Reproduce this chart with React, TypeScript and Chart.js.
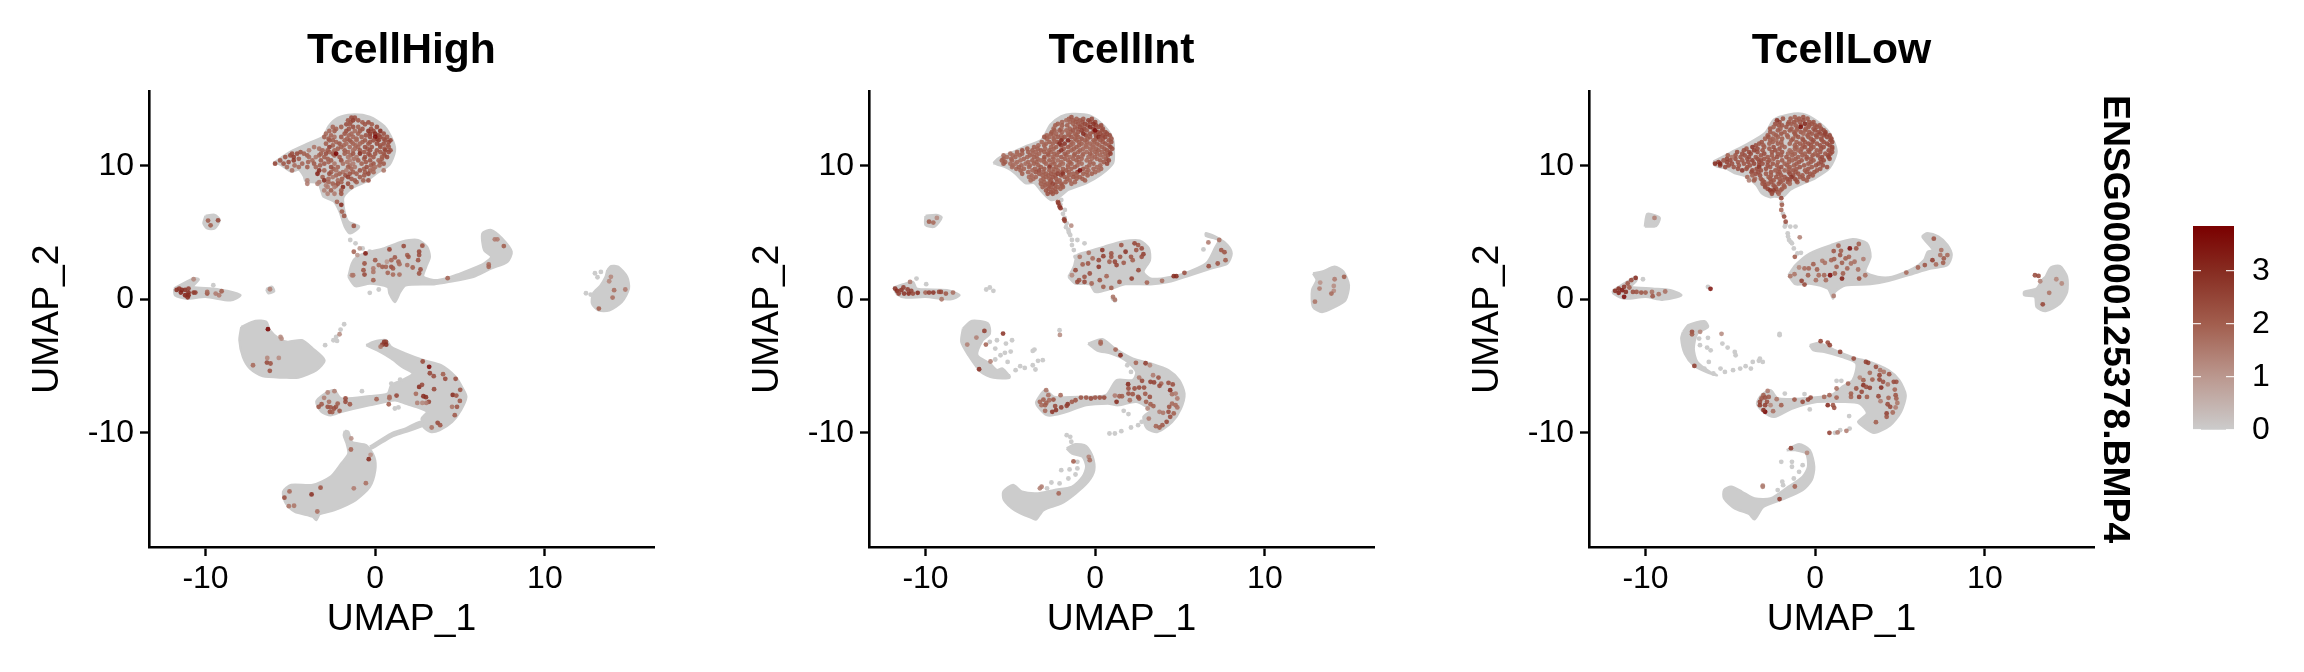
import React, { useEffect, useRef } from "react";
import { Chart, registerables } from "chart.js";

Chart.register(...registerables);

// UMAP cells are read off the picture. Solid grey masses, where single cells cannot be told apart,
// are kept as hull outlines in UMAP units; separate cells at their edges and all expressing cells are points.
const panelTitles = ["TcellHigh", "TcellInt", "TcellLow"];
const stripLabel = "ENSG00000125378.BMP4";
const xTickValues = [-10, 0, 10];
const yTickValues = [-10, 0, 10];
const legendTicks = [0, 1, 2, 3];
const legendRange = [0, 3.85];
const scaleValues = [0, 1, 2, 3, 3.85];
const scaleColors = [[204, 204, 204], [187, 152, 143], [162, 94, 78], [135, 44, 33], [122, 0, 0]];

// hulls: x,y pairs
const highHulls = [
  [-6,10.2,-4.95,11.08,-3.9,11.7,-3.05,12.2,-2.74,12.96,-2.2,13.58,-1.37,13.83,-.32,13.66,.53,12.96,1.05,11.83,1.16,11.08,.84,10.08,.1,9.45,-.53,8.82,-1.37,8.32,-1.79,7.82,-1.9,7.44,-1.79,6.44,-1.58,5.81,-.95,5.44,-1.47,4.94,-1.79,5.44,-2.1,6.57,-2.42,7.32,-3.05,7.7,-3.16,8.07,-3.37,8.7,-4.1,8.82,-4.2,9.2,-4.5,9.7,-4.95,9.57,-5.58,10.08],
  [-10,6.24,-9.47,6.32,-9.16,5.94,-9.47,5.3,-9.89,5.3,-10.12,5.68],
  [-11.85,.8,-10.74,1.55,-10.4,1.48,-10.74,.93,-9.58,.8,-8.74,.63,-7.94,.3,-8.53,-.08,-10,.18,-11.16,.05,-11.79,.3],
  [-6.42,.75,-6.1,.95,-5.95,.6,-6.3,.45],
  [-1.58,1.68,-1.37,2.68,-1.05,3.2,-.32,3.56,.53,3.81,1.58,4.31,2.53,4.43,3.05,3.93,3.22,3.18,3,2.43,2.84,1.68,3.68,1.43,4.74,1.8,6,2.43,6.42,2.68,6.84,3.18,6.42,3.68,6.32,4.93,6.84,5.18,7.47,4.56,8.04,3.56,7.79,2.81,6.84,2.31,5.79,1.68,4.32,1.3,3.47,1.13,1.79,1.05,1.47,.55,1.16,-.2,.84,.43,.74,.93,-.32,1.18,-1.16,.98],
  [13.68,2.18,13.9,2.48,14.32,2.43,14.84,1.68,14.95,.8,14.53,-.2,13.79,-.83,13.16,-.83,12.78,-.33,12.84,.43,13.26,1,13.58,1.68],
  [-7.89,-2.07,-7.05,-1.62,-6.42,-1.69,-6.21,-2.32,-5.68,-2.94,-5.16,-3.19,-4.32,-3.07,-3.68,-3.69,-2.99,-4.56,-3.47,-5.31,-4.53,-5.86,-5.37,-5.86,-6.63,-5.76,-7.37,-5.19,-7.79,-4.32,-8,-3.07],
  [-.53,-3.44,-.11,-3.19,.63,-3.07,.95,-3.57,1.79,-4.07,2.84,-4.56,3.89,-4.94,4.74,-5.81,5.16,-6.68,5.37,-7.31,5.05,-8.3,4.53,-9.18,3.79,-9.8,3.26,-9.93,2.84,-9.55,2.74,-8.93,3.05,-8.43,2.42,-8.06,1.79,-7.81,1.16,-7.56,-.32,-7.93,-2,-8.43,-2.63,-8.68,-3.16,-8.43,-3.47,-7.68,-2.95,-7.06,-2.42,-6.81,-2,-7.43,-.32,-7.26,.74,-7.06,.95,-6.43,1.58,-6.06,2.21,-5.56,1.58,-5.06,.95,-4.44,.11,-3.82],
  [-.32,-11.05,.95,-10.05,1.79,-9.68,2.63,-9.18,2.84,-9.43,1.79,-9.93,.95,-10.3,-.21,-11.17],
  [-1.79,-9.85,-1.58,-9.93,-1.37,-10.68,-.53,-10.93,-.06,-11.8,0,-12.8,-.32,-14.04,-1.16,-15.04,-2.42,-15.79,-3.26,-16.08,-3.47,-16.53,-3.68,-16.28,-4.74,-15.91,-5.26,-15.29,-5.43,-14.41,-4.95,-13.91,-3.68,-13.91,-2.63,-13.29,-2,-12.3,-1.58,-11.55,-1.68,-10.8,-1.85,-10.18],
];
const intHulls = [
  [-6,10.2,-5.68,10.58,-4.74,11.08,-4.1,11.45,-3.16,11.95,-2.63,13.08,-2,13.7,-1.37,13.88,-.32,13.76,.53,12.96,1.05,11.95,1.1,11,1.05,10.2,.32,9.32,-.53,8.7,-1.58,8.2,-2.21,7.57,-2.63,7.45,-3.16,8.07,-3.58,8.7,-4.1,8.7,-4.74,9.45,-5.16,9.82,-5.79,10.1],
  [-10,6.24,-9.37,6.32,-9.05,6.14,-9.47,5.44,-10,5.56],
  [-11.89,.88,-11.26,1.13,-10.74,1.3,-10.53,.8,-10,.73,-8.74,.68,-8,.3,-8.53,0,-10,.18,-11.16,.13,-11.68,.38],
  [-1.58,1.68,-1.26,2.43,-1.05,3.31,-.42,3.56,.53,3.93,1.58,4.31,2.63,4.39,3.16,3.81,3.22,2.93,2.84,2.06,3.26,1.55,3.89,1.55,4.95,1.8,6,2.31,6.63,2.81,7.05,3.81,7.26,4.44,6.53,4.74,6.53,4.94,7.26,4.56,7.79,4.06,8.04,3.43,7.79,2.68,6.84,2.31,5.58,1.8,4.32,1.3,3.26,1.13,1.79,1.13,.95,.8,0,.55,-.32,1.13,-1.16,1.18],
  [12.84,1.93,13.37,2.06,14.11,2.43,14.63,2.06,14.95,1.05,14.74,-.08,14.11,-.58,13.37,-.95,12.84,-.58,12.78,.68,13.05,1.43],
  [-7.79,-2.19,-7.26,-1.62,-6.32,-1.82,-6.21,-2.57,-6.63,-3.07,-6.95,-4.19,-6.21,-4.81,-5.79,-5.31,-5.47,-5.19,-5.05,-5.86,-6,-5.86,-6.74,-5.44,-7.47,-4.19,-7.89,-3.19],
  [-.42,-3.32,.42,-2.99,1.16,-3.69,2.21,-4.44,3.26,-4.81,4.32,-5.31,4.95,-6.06,5.26,-7.06,5.05,-8.18,4.53,-9.18,3.68,-9.93,3.05,-9.68,2.84,-8.81,3.26,-8.31,2.42,-7.68,1.37,-7.93,.74,-7.81,-.53,-7.93,-2,-8.55,-2.84,-8.68,-3.37,-8.05,-3.47,-7.68,-2.95,-6.81,-2.42,-7.31,-.74,-7.31,.63,-7.18,1.26,-6.06,2.21,-6.06,2.42,-5.44,1.79,-4.57,.95,-4.07,.11,-3.82],
  [-1.68,-11.17,-1.16,-10.85,-.53,-11,-.15,-11.8,-.06,-12.8,-.42,-13.67,-1.16,-14.54,-2,-15.29,-3.05,-15.79,-3.47,-16.48,-3.68,-16.41,-4.74,-15.79,-5.37,-15.04,-5.41,-14.41,-4.84,-13.91,-4.32,-14.41,-3.37,-14.54,-2.42,-14.29,-1.37,-14.04,-.74,-13.29,-.53,-12.54,-.74,-11.8,-1.37,-11.55],
];
const lowHulls = [
  [-6,10.31,-4.95,11,-3.9,11.7,-2.95,12.46,-2.42,13.46,-1.58,13.83,-.74,13.88,.11,13.33,.84,12.46,1.26,11.08,.84,9.82,0,9.07,-.74,8.65,-1.47,8.2,-1.89,7.69,-2.42,7.69,-2.63,7.64,-3.16,7.95,-3.47,8.57,-4.1,9.2,-4.74,9.45,-5.16,9.75,-5.89,10],
  [-10.04,5.44,-9.89,6.39,-9.37,6.24,-9.16,6.07,-9.37,5.49],
  [-11.94,.63,-11.26,1.18,-10.58,1.68,-10.53,1.43,-10.84,.93,-9.58,.8,-8.53,.68,-7.89,.3,-8.95,-.03,-10,.18,-11.26,.05,-11.89,.43],
  [-1.58,1.8,-1.16,2.56,-.32,3.43,.95,4.06,2.21,4.49,3.05,4.19,3.26,3.18,2.95,2.06,3.68,1.68,4.53,1.68,5.79,2.31,6.42,2.93,6.63,3.56,6.95,3.68,6.32,4.69,6.63,4.94,7.26,4.69,7.79,4.06,8.04,3.31,7.79,2.56,6.84,2.31,5.79,1.93,4.32,1.38,3.26,1.13,1.79,1.05,1.16,.55,1.05,.05,.74,.8,-.32,1.18,-1.16,1.13],
  [13.58,1.68,13.89,2.38,14.42,2.48,14.84,1.68,14.84,.55,14.42,-.33,13.58,-.88,13.05,-.58,12.95,.18,12.32,.3,12.32,.55,13.05,.8,13.37,1.43],
  [-7.79,-2.44,-7.47,-1.94,-6.53,-1.64,-6.32,-2.07,-6.95,-2.57,-7.16,-3.69,-6.95,-4.69,-6.21,-5.44,-5.79,-5.69,-6.42,-5.44,-7.16,-4.94,-7.68,-4.07,-7.89,-2.94],
  [-.32,-3.44,.21,-3.27,1.37,-3.94,2.42,-4.44,3.05,-4.61,4.32,-5.31,4.95,-6.06,5.33,-7.18,5.05,-8.43,4.42,-9.43,3.47,-10,2.84,-9.55,2.53,-9.18,3.05,-8.55,2.63,-7.81,1.58,-7.68,.11,-7.68,-1.37,-8.18,-2.42,-8.8,-3.05,-8.43,-3.43,-7.81,-3.16,-7.18,-2.63,-6.81,-2.21,-7.43,-.74,-7.43,.95,-7.18,1.58,-6.56,2.21,-6.06,2.42,-4.81,1.58,-4.32,.53,-3.94,-.11,-3.82],
  [-1.68,-11.3,-.95,-10.85,-.32,-11.3,-.06,-12.54,-.21,-13.54,-.74,-14.29,-1.79,-14.91,-3.05,-15.54,-3.58,-16.48,-3.89,-16.08,-4.74,-15.66,-5.37,-14.91,-5.37,-14.29,-4.95,-14.04,-4.32,-14.41,-3.58,-14.91,-2.63,-14.91,-1.58,-14.04,-.74,-13.29,-.42,-12.54,-.53,-11.55,-1.16,-11.3],
];

// separate grey cells: x,y pairs
const highGrey = [-1.47,4.44,-1.16,4.19,-.74,3.81,-.32,3.56,-.32,.48,.21,.73,-9.54,1.05,-4,8.95,-1.83,-1.87,-2.04,-2.27,-2.3,-2.82,-2.46,-3.07,-2.25,-3.12,-2.95,-3.44,-.78,-6.88,.95,-6.31,1.47,-6.01,1.16,-8.18,1.37,-8.1,12.95,1.95,13.3,2.05,12.42,.45,12.7,.35,13.1,1.65];
const intGrey = [-2.05,7.1,-1.9,6.4,-1.8,6.1,-1.72,5.4,-1.55,5,-1.58,5.19,-1.47,4.81,-1.37,4.44,-1.37,4.06,-1.26,3.68,-1.16,3.18,-2,7.44,-1.79,6.69,-1.68,5.69,-1.05,4.44,-.63,4.19,6.38,3.73,1.05,.05,1.16,-.08,-10.53,1.55,-9.96,1.13,-6.42,.73,-6.21,.88,-6,.63,-6.21,-3.19,-5.79,-3.07,-5.26,-3.32,-4.9,-3.07,-5.89,-4.51,-5.32,-4.01,-4.98,-3.92,-5.58,-4.19,-5.16,-4.69,-4.69,-5.31,-4.42,-5.01,-4.15,-5.14,-3.58,-3.77,-3.68,-3.87,-3.37,-4.61,-3.09,-4.56,-3.68,-4.94,-3.52,-5.26,-2.1,-2.32,-5.89,-3.69,-5.12,-5.76,.84,-10.05,1.16,-10.05,1.54,-9.88,2.11,-9.6,2.53,-9.43,2.74,-9.18,3.05,-8.81,1.68,-8.35,1.96,-8.6,1.89,-4.94,2.11,-5.44,-1.68,-10.18,-1.47,-10.3,-1.41,-10.67,-2,-12.8,-1.51,-12.74,-1.05,-12.67,-1.16,-13.12,-1.58,-13.42,-2.1,-13.79,-2.58,-13.72,-2.84,-14.16,-2.46,-14.54,-1.05,-12.17];
const lowGrey = [-1.98,7.2,-1.9,6.4,-1.75,5.6,-1.6,4.7,-1.45,4.3,-1.79,5.44,-1.47,5.44,-1.16,5.44,-1.62,4.94,-1.54,4.44,-1.37,4.19,-1.26,3.81,-1.05,3.43,-.84,3.48,-10.15,1.5,-6.32,.93,-6.84,-2.94,-6.32,-2.89,-6.79,-3.44,-6.37,-3.62,-6.16,-3.82,-5.47,-3.32,-5.16,-3.62,-4.74,-3.94,-4.69,-4.19,-6.27,-4.69,-6.53,-5.19,-6,-5.56,-5.58,-5.19,-5.32,-5.44,-4.84,-5.31,-4.42,-5.19,-4.1,-5.01,-3.79,-5.19,-3.68,-4.69,-3.26,-4.44,-3.09,-4.69,-3.32,-4.61,-2.1,-2.69,-2.1,-2.6,1.16,-10,1.47,-9.8,2.03,-9.68,1.26,-6.11,1.54,-6.11,2,-8.75,-.32,-8.25,-.63,-7.1,-1.79,-7.06,-1.94,-13.66,-1.37,-12.54,-1.37,-12.17,-2,-12.17,-.74,-12.42,-.95,-12.92,-1.26,-13.42,-2.21,-14.29,-1.89,-13.92];

// expressing cells, row per y: y, x, value, x, value ...
const highDense = [
  [13.25,-1.45,2.2,-.75,2.1,-.4,2.3],[12.75,-2.3,1.9,-1.55,2.2,-.75,2.2,-.25,2.3],[12.27,-2.6,1.9,-1.55,1.9,-.55,2.3,.2,2.6],[12.02,-2.75,2,-1.65,1.9,-1.1,1.9,.1,2.5,.5,2.3],
  [11.77,-2.3,1.9,-1.4,1.8,-.75,2,-.3,2.2,.8,2.3],[11.52,-2.5,2,-1.85,1.9,-1.15,1.9,.3,2.2,.75,2.2],[11.27,-3.3,1.7,-2.2,2,-1.2,1.8,-.45,2.1,.55,2.2],[11.02,-4.4,2.2,-2.7,1.9,-1.6,1.9,-.65,2.1,.3,2.1,.8,2.3],
  [10.77,-5,2.4,-4,2,-3.3,1.9,-2.4,2,-1.45,1.8,-.3,2.1,.55,2.1],[10.52,-4.5,2.1,-2.8,2,-1.25,1.7,-.65,2,.4,2],[10.27,-5.1,2.3,-3.95,1.9,-2.75,1.9,-1.65,1.6,-.55,2.1,.3,2.1],[10.02,-4.75,1.8,-3.25,2,-1.5,1.7,-.25,2,.25,1.9],
  [9.77,-2.45,2,-1.4,1.9,-.65,2,-.1,1.9],[9.52,-2.6,2,-1.9,1.7,-1.3,2,-.6,2.1,-.1,1.8],[9.27,-2.3,1.9,-1.75,2.3,-.65,2.1],[9.02,-2.75,1.8,-1.95,2,-1.4,2.1],[8.77,-3.3,1.5,-2.75,1.9,-2,2,-1.1,2],[8.52,-2.9,1.4,-2.3,1.9],
];
const intDense = [
  [13.5,-1.55,2,-1.1,2,-.7,2.1,-.2,2.3],[13.27,-1.95,1.9,-1.5,1.9,-1.15,2.1,-.75,2.3,-.3,2.4,0,2.5],[13.02,-2.35,2,-1.95,2,-1.65,2,-.8,2.2,-.45,2.4,.05,2.6,.35,2.4],[12.77,-2.45,1.9,-2,1.8,-1.5,2,-1.05,2.1,-.65,2.5,-.1,2.7,.45,2.3],
  [12.52,-2.55,2,-1.95,1.9,-1.45,2,-1,2.1,-.1,2.4,.15,2.4,.6,2.4],[12.27,-2.85,1.9,-2.45,1.8,-2,1.9,-1.55,2,-1.1,2.1,-.55,2.4,.05,2.4,.45,2.5,.85,2.4],[12.02,-2.85,2,-2.45,2,-1.95,2,-1.2,2,-.8,2.2,-.45,2,.05,2.2,.45,2.3,.95,2.2],
  [11.77,-3.15,1.9,-2.7,2,-2.25,2.2,-1.4,1.9,-.95,2,-.5,1.9,-.05,1.9,.45,2.1,.95,2.3],[11.52,-3.35,1.9,-3,2,-2,2.6,-1.45,2,-.95,2,-.55,1.9,-.15,1.8,.25,1.9,.8,2.2],[11.27,-4,2,-3.4,2,-2.95,1.9,-2.45,2,-1.85,2.1,-1.25,2,-.7,1.9,-.3,1.8,.05,1.9,.55,2.1,1,2.3],
  [11.02,-4.6,1.9,-3.95,2,-3.5,1.9,-3,2,-2.6,1.9,-2.15,2.2,-1.6,2,-1,1.9,-.5,1.8,0,1.9,.4,1.9,.85,2.2],[10.77,-5.4,1.8,-4.85,1.8,-4.45,1.9,-3.85,2,-3.45,1.9,-2.75,2,-2.25,2,-1.7,2,-1.25,2,-.75,1.9,-.2,1.8,.3,1.9,.75,2.1],
  [10.52,-5.4,2,-4.95,1.9,-4.2,1.9,-3.4,2,-3,1.9,-2.45,1.9,-1.8,2,-1.3,1.9,-.8,1.9,-.2,1.8,.1,1.8,.65,2.2],[10.27,-5.3,2,-4.6,1.8,-3.95,1.9,-3.45,2,-3,2,-2.5,1.9,-2,1.9,-1.5,2,-.95,1.9,-.3,1.9,.5,2.1],
  [10.02,-4.85,1.8,-4.35,1.9,-3.85,1.9,-3.35,2,-2.65,2.1,-2.1,2,-1.6,1.9,-1.05,1.9,-.35,1.9,.3,1.9],[9.77,-4.65,1.9,-4.2,1.9,-3.55,2,-3,2.1,-2.45,2,-1.9,2,-1.4,2,-.7,2.1,-.1,1.9,.35,1.9],
  [9.52,-3.95,1.9,-3.5,2.2,-3.05,2,-2.45,2,-1.95,2.2,-1.55,2,-1.05,2.4,-.5,1.9,0,1.9],[9.27,-3.75,1.9,-3.1,2,-2.75,2,-2.35,2.2,-2,2.4,-1.55,2,-1.1,2,-.45,2],[9.02,-3.65,1.8,-3.05,2,-2.7,2,-2.3,2.1,-1.65,2,-1.1,2,-.75,2],
  [8.77,-3,2,-2.65,2.1,-2.25,2.1,-1.75,2,-1.2,1.9],[8.52,-2.95,2.1,-2.7,2.2,-2.35,2.1,-1.95,2],[8.27,-2.75,2.2,-2.35,2.1,-2.05,2],[8.02,-2.6,2.3,-2.3,2.2],
];
const lowDense = [
  [13.52,-1.9,2.2,-1.45,2.1,-.95,2.2,-.45,2.1],[13.27,-2.1,2.4,-1.55,2.1,-1.25,2.2,-.9,2.1,-.35,2.2,-.1,2.2],[13.02,-2.15,2.2,-1.95,2.2,-1.15,2.1,-.85,2.2,-.35,2.3,0,2.2,.25,2.2],[12.77,-2.65,2.1,-2.05,2,-1.4,2.1,-1.05,2.2,-.55,2.1,-.1,2.2,.35,2.3],
  [12.52,-2.65,2.1,-1.8,2,-1.25,2,-.85,2.1,-.35,2.1,.2,2.3,.6,2.5],[12.27,-2.8,2.1,-2.3,2.1,-1.65,2,-1.15,2,-.45,2.2,.05,2.3,.5,2.4,.85,2.5],[12.02,-2.95,2,-2.5,2,-1.95,2,-1.3,2,-.75,2.1,-.25,2.2,.35,2.3,.95,2.5],[11.77,-3.15,2.2,-2.5,2,-2,2,-1.1,2,-.6,2.1,-.15,2.2,.5,2.3,1,2.5],
  [11.52,-3.5,2.3,-3.05,2.1,-1.95,2,-1.2,2,-.7,2.1,-.25,2.2,.3,2.3,.85,2.4],[11.27,-4.05,2.2,-3.4,2.4,-2.7,2.1,-2.1,2.2,-1.2,2,-.8,2.1,-.25,2.2,.35,2.3,1,2.4],[11.02,-4.6,2.3,-3.9,2.4,-3.4,2.3,-2.55,2.2,-1.95,2.2,-1.4,2,-.85,2.1,-.35,2.2,.3,2.2,1,2.3],
  [10.77,-5.15,2,-4.7,2.2,-4.15,2.3,-3.2,2.2,-2.55,2.1,-2,2.1,-1.35,2,-.75,2.1,-.15,2.2,.15,2.3,.75,2.4],[10.52,-5.2,2.4,-4.7,2.3,-4,2.3,-3.4,2.4,-3,2.2,-2.45,2.1,-1.55,2,-1.15,2.1,-.5,2.1,-.25,2.1,.3,2.3,.85,2.4],[10.27,-5.7,2.6,-5.2,2.5,-4.55,2.2,-3.95,2.3,-3.3,2.4,-2.8,2.2,-2.2,2,-1.55,2,-.95,2.1,-.25,2.1,.35,2.3],
  [10.02,-5.6,2.6,-5.1,2.4,-4.5,2.2,-3.85,2.2,-3.3,2.5,-2.8,2.3,-2.25,2.1,-1.65,2.1,-1.25,2,-.65,2.1,.05,2.2,.45,2.3],[9.77,-4.55,2.3,-4.05,2.3,-3.45,2.4,-2.9,2.3,-2.15,2.2,-1.55,2,-1.1,2.1,-.4,2.2,.3,2.2],[9.52,-3.75,2.4,-3.35,2.3,-2.6,2.2,-2.1,2.2,-1.55,2.1,-1.15,2.2,-.5,2.2,-.05,2.2],
  [9.27,-3.7,2,-3.25,2.3,-2.6,2.1,-2,2.2,-1.3,2.3,-.75,2.2,-.15,2.2],[9.02,-3.55,1.8,-3.2,2.1,-2.65,2.2,-2.1,2.1,-1.65,2.4,-1.2,2.4,-.7,2.2],[8.77,-3,2.3,-2.6,2.2,-2.05,2.2,-1.6,2.2,-1.05,2.1],[8.52,-2.95,2.4,-2.45,2.3,-1.85,2.1],[8.27,-2.8,2.5,-2.3,2.3,-1.95,2.1],[8.02,-2.55,2.3,-2.2,2.3],
];
const highCells = [
  [13.6,-1.4,2.4,-1.2,2.3],[13.4,-1.6,2.2,-1.3,2.6,-1,2.2],[13.1,-1.7,2.3,-1.5,2.1,-.6,2.2,-.2,2.1],
  [12.9,-2.5,1.9,-2,2,-1.3,2.3,-1,2,.1,2.4],[12.6,-2.7,1.9,-2.4,2,-1.7,2.3,-1.2,1.8,-.9,2.1,-.4,2.8,-.1,2.5,.3,3],
  [12.4,-2.9,1.8,-1.8,2.2,-1.4,1.9,-1,2,-.3,2.7,0,3,.5,2.3],[12.15,-3,2,-2.4,1.7,-2,2.2,-1.3,1.9,-.8,2,-.3,2.5,0,3.6,.3,2.4,.7,2.2],
  [11.9,-2.7,2.1,-2.5,2,-1.8,1.9,-1.5,2.1,-1.1,1.8,-.6,2.1,-.1,2.3,.2,2.7,.6,2.3,.9,2.5],[11.65,-2.9,2,-2.1,2.2,-1.7,1.8,-1.3,1.9,-.9,1.9,-.4,2.2,.1,2.4,.5,2.3],
  [11.4,-3.6,1.6,-2.7,2.6,-2,2,-1.5,1.8,-1,1.9,-.6,2.3,-.2,2.2,.3,2.2,.8,2.1],[11.15,-3.9,1.4,-3.1,1.9,-2.8,2.1,-2.4,1.9,-1.8,2.1,-1.3,1.7,-.9,2.2,-.3,2.3,.1,2.2,.6,2.5,.9,2.3],
  [10.9,-4.9,2.3,-4.6,2.4,-4.2,2,-3.2,2,-2.9,2.3,-2.5,2.1,-2.3,3.8,-1.8,2,-1.3,2.2,-.9,3,-.4,2.3,0,2.2,.5,2.2],[10.65,-5.3,2.2,-4.8,2.6,-3.9,1.8,-3.5,1.6,-3,2,-2.1,2.1,-1.6,1.6,-1.1,1.6,-.6,2.3,-.1,2.1,.4,2,.7,2.4],
  [10.4,-5.6,2.2,-4.8,2.7,-3.7,1.8,-3.2,2.1,-2.6,2,-2,2.4,-1.5,1.5,-1,2,-.3,2.2,.2,1.9],[10.15,-5.9,2.5,-5.4,2.2,-4.3,1.9,-3.6,2.1,-3,2.1,-2.4,1.6,-1.9,1.7,-1.3,1.5,-.8,2,-.1,2.2,.5,2.1],
  [9.9,-5.2,1.8,-4.5,1.8,-4,2,-3.5,1.9,-2.6,2.3,-2.2,1.9,-1.6,2,-1.2,1.6,-.5,2.3,0,1.7],[9.65,-4.9,1.7,-3.3,3,-3,1.9,-2.3,1.7,-1.7,1.5,-.9,2.3,-.3,1.9,.5,1.6],
  [9.4,-3.4,3.2,-2.7,2.3,-2.1,2,-1.5,2.2,-1.1,2,-.4,2.5],[9.15,-3.1,2,-2.5,1.6,-1.6,2.6,-.9,2.1],[8.9,-4,1.4,-3,3,-2.2,1.8,-1.2,2.1,-.7,2,-.4,2.3],
  [8.65,-4,1.5,-3.4,1.4,-2.5,2,-2.2,2.2,-1.6,2.3],[8.4,-2.8,1.5,-2.4,1.5,-1.9,3,-1.4,2],[8.15,-3,1.4,-2.6,2,-2,2.1],[7.9,-2.8,1.4,-2.4,1.5,-2,2.2],
  [7.3,-2.25,1.9],[7.07,-2,3],[6.57,-1.96,2],[6.24,-1.83,2.1],[5.49,-1.26,2.2],
  [5.89,-9.85,2],[5.54,-9.7,2],[5.91,-9.26,2.4],
  [.7,-11.7,3,-11.4,3.1,-11.2,2.9],[.8,-11.55,2.8,-11,2.6],[.5,-11.45,3.2,-11,3,-10.7,2.7,-10.6,2.6],[.3,-11.2,3.2,-11,3],[.15,-11.05,3],[1.5,-10.7,1.3],[.43,-9.9,2.2,-9.4,1.5],[.55,-9.9,1.8],[.6,-9.05,2],[.3,-9.2,1.5],[.75,-6.2,1.4],
  [3.98,1.68,2.4],[4.01,2.78,2.2],[3.56,2.59,2.4,-1.26,1.9],[3.31,2.59,2.3,1.89,2],[3.73,.84,2.5],[3.18,1.96,2.2],[2.93,2.53,2.2,.95,1.9,0,2.1],[3.43,-.57,3.3],[3.31,-1.05,1],[3.81,-.91,1],[3.13,1.16,2.1],
  [2.68,-.63,2.2],[2.81,.69,1,1.37,2],[2.63,1.43,1.8],[2.43,.63,1.9,.42,2,.95,2.3],[2.31,-.11,1.5,1.05,2.1],[2.56,.21,1.8,1.89,1.7],[2.38,2.21,2],[2.18,-.69,2.2],[1.85,-.63,2.4,1.05,1.8,1.43,1.7],[1.8,-1.37,1.4,-1.3,1.6],[2.05,-.11,1.6],[1.98,.74,1.9],[1.93,2.59,2.2],[2.23,2.67,2.3],[1.43,-.11,2],
  [1.58,4.27,1.9],[4.49,7.05,1.5,7.2,1.5],[3.98,7.58,2],[2.61,6.69,1.8],[2.43,6.69,1.9],
  [1.68,13.89,1.3],[1.35,13.79,1.3],[.68,14.08,1.7],[.73,14.74,1.5],[.13,13.99,1.7],[-.7,13.18,2],
  [-2.24,-6.32,3.8],[-2.82,-5.58,1.2],[-2.95,-5.52,1.2],[-4.39,-6.36,1.3,-5.68,1.2],[-4.74,-6.38,2.4],[-4.81,-6.17,2.2],[-4.94,-7.2,1.8],[-5.36,-6.21,2.2],[-2.62,-2.1,1.2],
  [-3.19,.53,2.8,.63,2.6],[-3.4,.42,2.8,.65,3],[-3.55,.32,1.6],[-4.66,2.8,2.4],[-5.06,3.18,3.6],[-5.54,3.22,2.5],[-5.76,3.45,2.3],[-5.61,4,2],[-5.96,4.13,2.4,4.74,2.3],[-6.78,5.01,2.2],[-6.73,3.47,2.4],[-6.56,2.59,3],[-6.41,2.76,2.4],[-7.08,2.4,1.8],[-7.26,2.84,3],[-7.33,2.99,3],[-7.68,3.16,2.5],[-7.76,3.01,1.5,2.78,1.3,2.48,1.4],[-7.16,4.57,3],[-7.21,4.78,2.2],[-7.61,4.99,2.1],[-8.05,4.53,1.6,4.82,2.2],[-8.68,4.69,2.1],[-9.25,3.68,2.4],[-9.43,3.83,2.2],[-9.6,3.33,1.7],
  [-7.48,.08,1.9],[-7.31,.84,1.8],[-7.42,.84,1.7],[-7.21,1.26,2.5],[-7.86,.8,2],[-7.43,-1.75,2.4],[-7.68,-1.75,2.4],[-7.86,-1.49,2.1],[-6.98,-2.8,1.3],[-6.88,-2.4,1.4],[-7.38,-3.01,1.4],[-7.68,-2.72,1.7],[-7.86,-3.16,2.1],[-8.05,-3.33,2.2,-2.31,2.2,-2.8,2.3],[-7.81,-2.21,2],[-8.1,-2.63,2.2],[-8.18,-2.42,2.3],[-8.35,-2.1,2.1],[-8.43,-2.67,2.2],[-8.45,-2.53,2],
  [-10.42,-1.41,1.1],[-11.25,-1.43,1.9],[-11.65,-.27,1.1],[-11.97,-.38,3],[-13.77,-.55,1.7],[-14.16,-1.26,1.5],[-14.11,-3.22,2.2],[-14.39,-5.05,1.8],[-14.61,-3.75,2.9],[-14.86,-5.35,2.3],[-15.49,-5.09,1.6],[-15.46,-4.78,1.6],[-15.89,-3.41,1.7],
];
const intCells = [
  [13.64,-1.4,2.2],[13.4,-1.7,1.8,-1.3,2.1,-.9,2.2,-.4,2.6],[13.14,-2.2,2,-1.3,2,-1,2.2,-.6,2.5,-.1,2.9],[12.9,-1.2,2.1,-.9,2.3,-.3,3,.2,2.3],
  [12.64,-2.4,2,-2.1,2.1,-1.7,1.9,-1.3,2.2,-.8,2.6,-.5,2.2,0,3.6,.4,2.3],[12.4,-2.6,2.1,-2.3,1.9,-1.6,1.9,-1.2,2,-.7,3,-.3,2.2,.3,2.4,.7,2.4],[12.15,-3,2.2,-2.7,1.9,-2.2,2.1,-1.8,2.2,-1.4,2.1,-1,2,-.3,2.1,.2,3,.6,2.5],
  [11.9,-2.4,1.9,-2,2.9,-1.6,3.2,-1.1,2,-.6,2,-.1,2,.3,2.2,.8,2.2],[11.65,-2.9,1.9,-2.5,2,-2.1,3,-1.8,2.8,-1.3,1.9,-.8,2,-.3,1.9,.1,2,.6,2.2],[11.4,-3.6,2,-2.6,1.9,-2.3,2,-1.6,2.1,-1.1,2,-.5,1.8,-.1,1.8,.4,2,.9,2.4],
  [11.15,-4.3,2.3,-3.7,2,-3.2,2.1,-2.7,2,-2,2.8,-1.4,2,-.9,2,-.2,1.8,.2,2,.7,2.2],[10.9,-5,1.8,-4.6,1.8,-4.3,2,-3.7,1.9,-3.3,1.9,-2.8,2.1,-2.4,2,-1.8,2.1,-1.2,2,-.7,1.9,-.3,2,.1,1.9,.6,2,.9,2.6],
  [10.65,-5.2,1.8,-4.7,1.9,-4,1.9,-3.6,2,-3,2.2,-2.5,1.9,-2,2.1,-1.5,1.8,-1,2.1,-.4,1.8,0,1.9,.5,1.8],[10.4,-5.5,2,-4.9,1.9,-4.4,1.8,-3.7,2,-3.2,1.9,-2.7,2,-2.2,1.8,-1.6,1.9,-1.1,2,-.5,1.8,.3,2,.8,2.5],
  [10.15,-5.4,2.1,-5,1.8,-4.7,1.7,-4.1,1.8,-3.6,2,-2.9,1.9,-2.4,2,-1.9,1.8,-1.4,2,-.8,1.8,-.1,2,.7,2.5],[9.9,-4.9,1.8,-4.5,2,-3.9,1.9,-3.2,2,-2.7,2.6,-2.3,2,-1.6,1.9,-1.2,2,-.5,1.9,.1,1.8],
  [9.65,-4.4,2,-3.7,1.9,-3.3,2.4,-2.7,2,-2.2,2,-1.7,2.1,-.9,3.6,-.4,1.9,.2,1.8],[9.4,-4.3,2,-3.3,2.1,-2.9,2,-2.6,2.1,-2.2,2.5,-1.9,2.8,-1.3,2,-.7,2,-.2,2],[9.15,-3.9,1.8,-3.5,1.9,-2.9,2,-2.5,2.2,-1.8,2,-1.3,2.1,-.9,2],
  [8.9,-3.8,1.8,-3.2,1.9,-2.6,2.1,-2.1,2,-1.5,1.9,-.6,2],[8.65,-3.2,2,-2.8,2,-2.5,2.5,-2,2.1,-1.4,1.9],[8.4,-3.1,2,-2.6,2.1,-2.2,2,-1.9,2],[8.15,-2.9,2.2,-2.5,2.1],[7.9,-2.8,2.3,-2.5,2.2],
  [7.3,-2.2,2.5],[7.19,-2.17,2.6],[6.95,-2.1,2.8],[6.82,-2.04,2.8],[5.99,-1.83,2.6],[5.88,-1.8,2.6],[5.51,-1.41,1.2],
  [5.81,-9.79,2],[5.74,-9.54,1.8],[6.09,-9.33,1.2],
  [.8,-11.79,2.8],[.63,-11.68,3,-10.84,2.6],[.43,-11.58,2.6,-11.26,2.8,-10.99,3,-10.74,2.4,-8.8,2.1],[.68,-11.43,2.8],[.88,-11.3,2.6],[.73,-11.05,2.6],[.48,-10.46,3],[1.3,-10.91,1.5],[.5,-10,1.9,-9.79,2.6,-9.54,2.8,-8.38,1.7],[.55,-9.2,2.4,-9.09,2.5],[0,-9.05,1.6],
  [4.06,1.54,2.2,2.53,2.2],[4.19,2.32,2.5],[3.81,2.74,2.4],[3.68,.42,2.8,2.42,2.2],[3.56,1.79,2.8],[3.43,.95,2.2],[3.38,2.84,2.6],[3.18,2.74,2.3,-.91,1.6,.95,2.2,1.47,2.2,2.11,2.1],[3.48,-.38,1.7],[3.06,-.15,1.8],[2.93,.21,2.4,2.21,2],[3.23,.48,2.6],[2.81,1.16,2.5,.84,2],[2.56,1.26,2.5],[2.73,1.68,2.1],[2.43,.21,2.8],[2.61,-.74,2],[2.68,-.42,2.2],[2.18,-1.16,2.4,2.55,2.4],[1.93,-.32,2.3],[1.8,-1.37,1.3],[1.43,-.95,2.2,.27,2.2],[1.68,-.63,2.2],[1.3,-1.05,2.4,-.63,2.4,1.43,2.2],[1.18,-.21,1.9],[1.73,.67,1.9,4.63,3,4.78,3],[1.55,2.15,2.6],[1.25,3.05,1.9],[1.38,3.94,1.7],[1.98,5.26,2.3],[2.48,6.69,2.3],[2.68,7.22,2.2],[2.93,7.68,2],[3.68,7.43,2.2],[3.53,7.62,2.2],[4.26,6.67,1.5],[4.44,7.31,1.7],[.93,.48,2],[.85,.95,2],[.18,1.05,1.6],[-.03,1.16,1.6],
  [1.68,14.67,2],[1.5,14.11,1.5],[1,14.06,1.2],[1.25,13.26,1.1],[.8,13.22,1.4],[.63,14.06,1.2],[.43,13.92,1.8],[-.18,12.95,1.6],
  [-2.37,-6.53,2.6],[-2.57,-5.43,2.8],[-2.87,-7,1.4],[-3.39,-7.54,1.4,-6.44,1.9],[-4.66,-6.17,1.4],[-5.24,-6.84,2.9],[-2.67,-2.08,1.2],
  [-3.32,.32,1.8],[-3.2,.32,1.8],[-3.77,1.2,1.9],[-4.19,1.49,3],[-4.76,2.4,1.9],[-4.79,2.97,2.6],[-4.94,3.22,1.3],[-5.86,2.59,1.5,3.73,2.2],[-5.69,3.41,1.5],[-6.11,2.76,2.4],[-6.18,3.26,2.6],[-6.23,3.47,2.6],[-6.31,3.89,1.9],[-6.26,4.32,2.3],[-6.38,4.57,2.3],[-6.48,3.79,2.4],[-6.36,1.94,3],[-6.68,1.96,2.3,2.32,2.3],[-6.61,2.59,2.4,2.88,2.3],[-6.81,4.42,3],[-7.11,4.53,1.7,2.21,2.2],[-7.06,4.74,1.5,1.96,2.3],[-7.26,1.58,2,1.43,2],[-7.21,1.16,1.5],[-7.68,1.26,3,3,2],[-7.56,2.04,1.7],[-7.31,2.53,2.4,3.22,2.3],[-7.43,2.59,2.3,4.84,1.5],[-7.08,2.95,2.1],[-7.86,3.26,2],[-8,3.43,2],[-8.18,3.09,1.3],[-8.93,3.16,1.5],[-7.81,4.53,1.8],[-7.93,4.74,1.8],[-8.05,4.36,2.2],[-8.1,4.84,1.7],[-8.43,3.79,1.5,4.32,2.3],[-8.5,4,1.6],[-8.55,4.63,2],[-8.8,4.42,2.3],[-9.18,4.21,2.4],[-9.43,3.96,2.1],[-9.5,3.58,1.9],[-9.6,3.79,2],
  [-7.36,.53,2.4,.27,2.3,0,2.2,-.53,2.2,-.84,2.2],[-7.43,-.25,2.4],[-7.56,-1.16,2.2,-2.71,1.8],[-7.68,-1.37,2.1,-3.26,1.9],[-7.86,-1.62,2.8],[-7.98,-1.68,2.6],[-8.1,-2,2.6],[-7.18,-2.04,1.8,-2.76,1.7],[-8.3,-2.31,2.8],[-8.43,-2.53,2.8],[-7.51,-2.46,2.2,-3.05,2],[-6.81,-2.89,1.6],[-7.76,-2.88,2],[-7.93,-3.16,1.8,-2.95,2],[-8.35,-2.95,1.8],[-8,-2.36,2.4],
  [-12.14,-1.28,2],[-11.8,-.38,1.4],[-12.05,-.32,1.7],[-14.04,-3.16,1.5],[-14.16,-3.26,1.4],[-14.54,-2.15,1.9],
];
const lowCells = [
  [13.64,-.7,2.2,-1.2,2],[13.4,-2.25,2.8,-1.1,2.1,-.7,2.3],[13.14,-2.35,2.3,-1.6,2.2,-1.4,2.1,-.6,3,-.2,2.2],[12.9,-2.45,2,-1.7,2.2,-.85,3.4,-.4,2.1,.1,2.2],
  [12.64,-2.2,2.1,-1.5,2.1,-1.1,1.9,-.6,2,0,2.3,.5,2.4],[12.4,-2.45,2,-2,2.2,-1.2,2.1,-.7,1.9,-.2,2.2,.3,2.4,.6,2.6],[12.15,-2.75,2.2,-2.2,2,-1.6,1.9,-1,2.2,-.4,2,.1,2.2,.7,2.5],
  [11.9,-2.65,2,-2.3,1.8,-1.4,2.1,-.7,2.2,-.1,2.3,.4,2.2,.9,2.4],[11.65,-3.3,2.2,-2.7,2,-2.2,2.1,-1.5,2,-.9,2.1,-.4,2.3,.1,2.2,.7,2.4],[11.4,-3.7,2.8,-3,2,-2.45,2.3,-1.8,1.9,-1.1,2,-.6,2.2,-.1,2.1,.5,2.3,1,2.4],
  [11.15,-4.2,2.3,-3.6,2.6,-3.1,2.2,-2.35,2.3,-1.5,1.8,-1,1.9,-.4,2.2,.1,2.1,.8,2.4],[10.9,-4.3,2.3,-3.8,2.5,-3,2.4,-2.2,2.2,-1.6,1.9,-1.2,2,-.6,2,0,2,.6,2.2,.9,2.4],
  [10.65,-4.9,1.6,-4.4,2.2,-3.9,2.4,-3.5,2.2,-2.8,2.1,-2.25,2.3,-1.7,2.1,-1,2,-.5,2.2,.4,2.4,.8,2.5],[10.4,-5.4,2.2,-5,2.4,-4.3,2.2,-3.7,2.6,-3.2,2.4,-2.7,2.2,-1.95,2.1,-1.35,2,-.8,2.2,-.1,2.1,.5,2.4],
  [10.15,-5.9,3,-5.6,3.1,-4.9,2.3,-4.2,2.2,-3.6,2.5,-3.1,2.3,-2.5,2.2,-1.8,2,-1.1,2.1,-.4,2.1,.2,2.3],[9.9,-5.3,2.4,-4.8,2.2,-4,2.2,-3.3,2.7,-2.65,2.2,-2,2.3,-1.5,2,-.9,2.2,-.2,2.1,.7,2.3],
  [9.65,-4.3,2.8,-3.7,2.4,-3.2,2.3,-2.35,2.1,-1.8,2,-1.3,2.2,-.6,2.1,.1,2.2],[9.4,-3.5,2.3,-2.9,2.1,-2.2,2.2,-1.5,2.3,-1,2.2,-.3,2.2],[9.15,-4,1.8,-2.75,2,-2.3,2.2,-1.8,2.2,-1.4,2.8,-.9,2.1,-.4,2.3],
  [8.9,-3.9,1.4,-3.6,2,-3.1,2.2,-2.45,2.2,-1.9,2.1,-1.5,2.3,-1.1,2.3,-.5,2.1],[8.65,-3.1,2.2,-2.75,2.1,-2.15,2.2,-1.5,1.9],[8.4,-2.95,2.3,-2.35,2.2,-1.8,2],[8.15,-2.65,2.8,-2.45,2.7,-2.05,2.1],[7.9,-2.55,2.3,-2.15,1.9],
  [7.57,-2,2.5],[7.07,-1.96,2],[6.69,-2,1.8],[6.19,-1.83,2.4],[5.81,-1.74,2.3],[4.64,-.91,1.4],[3.18,-1.2,2],
  [6.09,-9.47,1.4],
  [.63,-11.79,3],[.8,-11.58,3],[.48,-11.58,3.2],[.68,-11.37,3.4],[.18,-11.26,3.6],[.93,-11.26,2.8],[.55,-11.16,3,-10.74,2.3,-10.53,2.2,-9.62,1.7],[1.18,-11.05,2.2],[1.43,-10.84,2.4],[1.6,-10.58,2.9],[.5,-10.25,2.2,-10,2],[.23,-9.58,2.2],[.38,-9.22,1.7],[.58,-8.84,1.7],[.88,-10.95,2],[.78,-6.17,3.4],
  [4.14,2.57,2],[3.81,2.04,3.6,2.42,2.2],[4.01,1.37,1.9],[3.61,1.09,2.2],[3.63,1.52,2],[3.18,1.99,1.9],[3.01,2.84,1.5,1.12,2],[2.93,.95,1.9],[3.31,1.47,2.2],[3.06,1.79,2],[2.88,.42,1.6],[2.73,.57,1.7,1.58,2],[2.63,-.11,2],[2.68,2.11,1.7],[2.81,2.32,1.7],[2.43,1.26,2],[2.38,-.95,1.3],[2.31,-.63,1.8,-.38,1.9,1.89,1.9],[2.23,.11,2,2.53,1.7],[1.73,-1.47,1.6],[1.88,-1.22,1.6],[1.8,-.42,2,.21,1.8,.53,1.9,.88,3.6,2.95,1.7],[1.93,1.16,2,1.64,2],[1.55,2.59,2.2,1.58,3.2],[1.43,.63,1.8,.04,1.7],[1.38,-.8,2.6],[1.1,-.63,2.4],[2,5.37,1.8],[2.38,6.06,1.9],[2.56,6.46,2.2],[2.93,6.91,2.6],[2.61,7.12,1.8],[2.73,7.54,2],[3.31,7.37,1.7,7.79,1.8],[3.68,7.43,1.7],[3.06,7.58,2.1],[4.54,6.99,2.2],[.25,1.09,1.5],
  [1.8,12.95,2.4],[1.75,13.16,2.4],[1.35,13.26,1.4],[1.5,14.21,1.3],[1.18,14.53,1.3],[.48,13.79,1.6],[-.38,13.41,2.5],
  [-2.44,-7.26,2.3,-6.78,1.3],[-2.62,-7.26,2],[-2.59,-5.52,1.2],[-4.99,-7.12,2.6],
  [-3.14,.32,2.5],[-3.24,.74,2.4],[-3.44,.86,2.6],[-3.94,1.47,2.6],[-4.44,2.27,2.4],[-4.69,2.99,2.6],[-4.76,3.12,2.6],[-5.06,3.58,2.3],[-5.31,3.83,1.7],[-5.44,4.04,1.6],[-5.61,4.36,2.3],[-5.51,3.22,1.8],[-5.86,2.63,1.3],[-6.01,3.37,2,3.79,2.5],[-5.69,3.79,2.5],[-6.18,4,2.3,4.63,2.4,4.78,2.3],[-6.06,2.84,2],[-6.43,2.84,2.9],[-6.56,3.01,2.3],[-6.63,3.22,2.6],[-6.61,3.89,3],[-6.38,4.28,1.6],[-6.76,4.69,1.9],[-6.31,1.94,1.9],[-6.68,2.42,2.2,1.26,1.7],[-6.93,2.74,2.4],[-7.31,2.59,2.6,2.11,1.9,3.05,2,-2.74,2.1],[-7.06,2.11,2],[-7.26,3.73,2.4],[-7.18,4.74,2.2,.84,1.9,-3.05,2],[-7.43,4.78,2,-3.16,2.2],[-7.38,4.32,1.9],[-7.63,3.85,1.5],[-7.76,4.84,1.6],[-7.86,4.27,2.4],[-8.05,4.42,2.4],[-8.1,4.74,1.5],[-8.48,4.57,1.8],[-8.55,4.21,2.6],[-8.8,4.21,2.2],[-9.2,3.58,2],
  [-7.36,1.26,1.9,-.27,2.4,-2.95,2.3],[-7.31,.53,1.8],[-7.51,-.42,2.6,-1.22,2.1],[-7.68,-.74,2.4,-3.26,2.5,-2.84,2.3],[-7.93,.74,3,1.05,2.2,-2,2,-3.26,2.7,-2.95,2.6,-2.63,1.3],[-8.13,1.12,2.3],[-7.48,-2.27,1.6],[-8.38,-2.48,1.7],[-8.43,-2.95,3.8],[-8.3,-3.05,3],[-6.86,-2.8,1.5],[-10,.84,2.6],[-9.97,1.32,1.5],[-9.85,1.84,1.5],
  [-11.15,-1.43,2.6],[-11.5,-.48,1.3],[-14.02,-1.2,1.9],[-13.96,-3.09,1.4],[-14.04,-3.09,1.4],[-14.96,-2.1,2.6],
];

const mix = (value: number) => {
  let i = 0;
  while (i < scaleValues.length - 2 && value > scaleValues[i + 1]) i++;
  const t = Math.min(1, Math.max(0, (value - scaleValues[i]) / (scaleValues[i + 1] - scaleValues[i])));
  const c = scaleColors[i].map((a, k) => Math.round(a + (scaleColors[i + 1][k] - a) * t));
  return `rgba(${c[0]},${c[1]},${c[2]},0.88)`;
};
const toPairs = (flat: number[]) => {
  const out: { x: number; y: number }[] = [];
  for (let i = 0; i < flat.length; i += 2) out.push({ x: flat[i], y: flat[i + 1] });
  return out;
};
const toCells = (rows: number[][]) =>
  rows.flatMap(([y, ...rest]) => {
    const out: { x: number; y: number; v: number }[] = [];
    for (let i = 0; i < rest.length; i += 2) out.push({ x: rest[i], y, v: rest[i + 1] });
    return out;
  });

const FONT = "'Liberation Sans', Arial, sans-serif";
const GREY = "#cccccc";
const DOT = 2.4;
const noPad = (s: any) => { s.paddingTop = 0; s.paddingBottom = 0; s.paddingLeft = 0; s.paddingRight = 0; };
const panels = [
  { title: panelTitles[0], hulls: highHulls, grey: highGrey, cells: [...highDense, ...highCells], left: 0 },
  { title: panelTitles[1], hulls: intHulls, grey: intGrey, cells: [...intDense, ...intCells], left: 720 },
  { title: panelTitles[2], hulls: lowHulls, grey: lowGrey, cells: [...lowDense, ...lowCells], left: 1440 },
];

function Panel({ index }: { index: number }) {
  const ref = useRef<HTMLCanvasElement>(null);
  const p = panels[index];
  useEffect(() => {
    const last = index === 2;
    const axisCommon = {
      border: { display: true, color: "#000", width: 2.6 },
      grid: { display: true, drawOnChartArea: false, drawTicks: true, tickLength: 9, tickWidth: 2.4, tickColor: "#000" },
    };
    const hullSets = p.hulls.map((h) => {
      const pts = toPairs(h);
      return {
        type: "line", data: [...pts, pts[0]], order: 3, pointRadius: 0, borderColor: GREY, backgroundColor: GREY,
        borderWidth: 2.4, fill: "shape", tension: 0.25, xAxisID: "x", yAxisID: "y", borderJoinStyle: "round",
      };
    });
    const chart = new Chart(ref.current!, {
      type: "scatter",
      data: {
        datasets: [
          {
            data: toCells(p.cells), order: 0, pointRadius: DOT, pointBorderWidth: 0, pointHoverRadius: DOT,
            pointBackgroundColor: (c: any) => mix(c.raw ? c.raw.v : 0),
          },
          { data: toPairs(p.grey), order: 1, pointRadius: DOT, pointBorderWidth: 0, pointBackgroundColor: GREY },
          ...hullSets,
        ] as any,
      },
      options: {
        animation: false, responsive: false, devicePixelRatio: 1, events: [],
        plugins: {
          legend: { display: false }, tooltip: { enabled: false },
          title: {
            display: true, text: p.title, color: "#000", font: { family: FONT, size: 42.67, weight: "bold" },
            padding: { top: 26, bottom: 14 },
          },
        },
        scales: {
          x: {
            type: "linear", min: -13.33, max: 16.43, ...axisCommon,
            afterBuildTicks: (s: any) => { s.ticks = xTickValues.map((value) => ({ value })); },
            afterFit: (s: any) => { noPad(s); s.height = 125; },
            ticks: { color: "#000", font: { family: FONT, size: 32 }, padding: 4, maxRotation: 0, autoSkip: false },
            title: { display: true, text: "UMAP_1", color: "#000", font: { family: FONT, size: 37.33 }, padding: { top: 0, bottom: 30 } },
          },
          y: {
            type: "linear", min: -18.55, max: 15.58, ...axisCommon,
            afterBuildTicks: (s: any) => { s.ticks = yTickValues.map((value) => ({ value })); },
            afterFit: (s: any) => { noPad(s); s.width = 149; },
            ticks: { color: "#000", font: { family: FONT, size: 32 }, padding: 6, autoSkip: false },
            title: { display: true, text: "UMAP_2", color: "#000", font: { family: FONT, size: 37.33 }, padding: { top: 25, bottom: 0 } },
          },
          strip: {
            type: "linear", position: "right", min: 0, max: 1,
            afterFit: (s: any) => { noPad(s); s.width = 149; },
            border: { display: false }, grid: { display: false }, ticks: { display: false },
            title: last
              ? { display: true, text: stripLabel, color: "#000", font: { family: FONT, size: 37.33, weight: "bold" }, padding: { top: 106, bottom: 0 } }
              : { display: false },
          },
        },
      } as any,
    });
    return () => chart.destroy();
  }, []);
  return <canvas ref={ref} width={803} height={672} style={{ position: "absolute", left: p.left, top: 0, display: "block" }} />;
}

function ColorBar() {
  const ref = useRef<HTMLCanvasElement>(null);
  useEffect(() => {
    const chart = new Chart(ref.current!, {
      type: "bar",
      data: {
        labels: ["value"],
        datasets: [
          {
            data: [legendRange], barPercentage: 1, categoryPercentage: 1, borderWidth: 0, borderSkipped: false,
            backgroundColor: (c: any) => {
              const area = c.chart.chartArea;
              if (!area) return GREY;
              const g = c.chart.ctx.createLinearGradient(0, area.bottom, 0, area.top);
              scaleValues.forEach((v, i) => {
                const k = scaleColors[i];
                g.addColorStop(v / legendRange[1], `rgb(${k[0]},${k[1]},${k[2]})`);
              });
              return g;
            },
          },
        ],
      },
      options: {
        animation: false, responsive: false, devicePixelRatio: 1, events: [],
        layout: { padding: { top: 30, bottom: 40 } },
        plugins: { legend: { display: false }, tooltip: { enabled: false } },
        scales: {
          x: { display: false },
          y: {
            position: "right", min: legendRange[0], max: legendRange[1],
            afterBuildTicks: (s: any) => { s.ticks = legendTicks.map((value) => ({ value })); },
            afterFit: (s: any) => { noPad(s); s.width = 70; },
            border: { display: false, dash: [8, 25] },
            grid: { display: true, z: 1, drawTicks: false, color: "rgba(255,255,255,0.85)", lineWidth: 1.2 } as any,
            ticks: { color: "#000", font: { family: FONT, size: 32 }, padding: 18, autoSkip: false, callback: (v: any) => String(v) },
          },
        },
      } as any,
    });
    return () => chart.destroy();
  }, []);
  return <canvas ref={ref} width={111} height={274} style={{ position: "absolute", left: 2193, top: 196, display: "block" }} />;
}

export default function App() {
  return (
    <div style={{ position: "absolute", left: 0, top: 0, width: 2304, height: 672, background: "#fff", overflow: "hidden" }}>
      <style>{"body{margin:0}"}</style>
      <Panel index={0} />
      <Panel index={1} />
      <Panel index={2} />
      <ColorBar />
    </div>
  );
}
